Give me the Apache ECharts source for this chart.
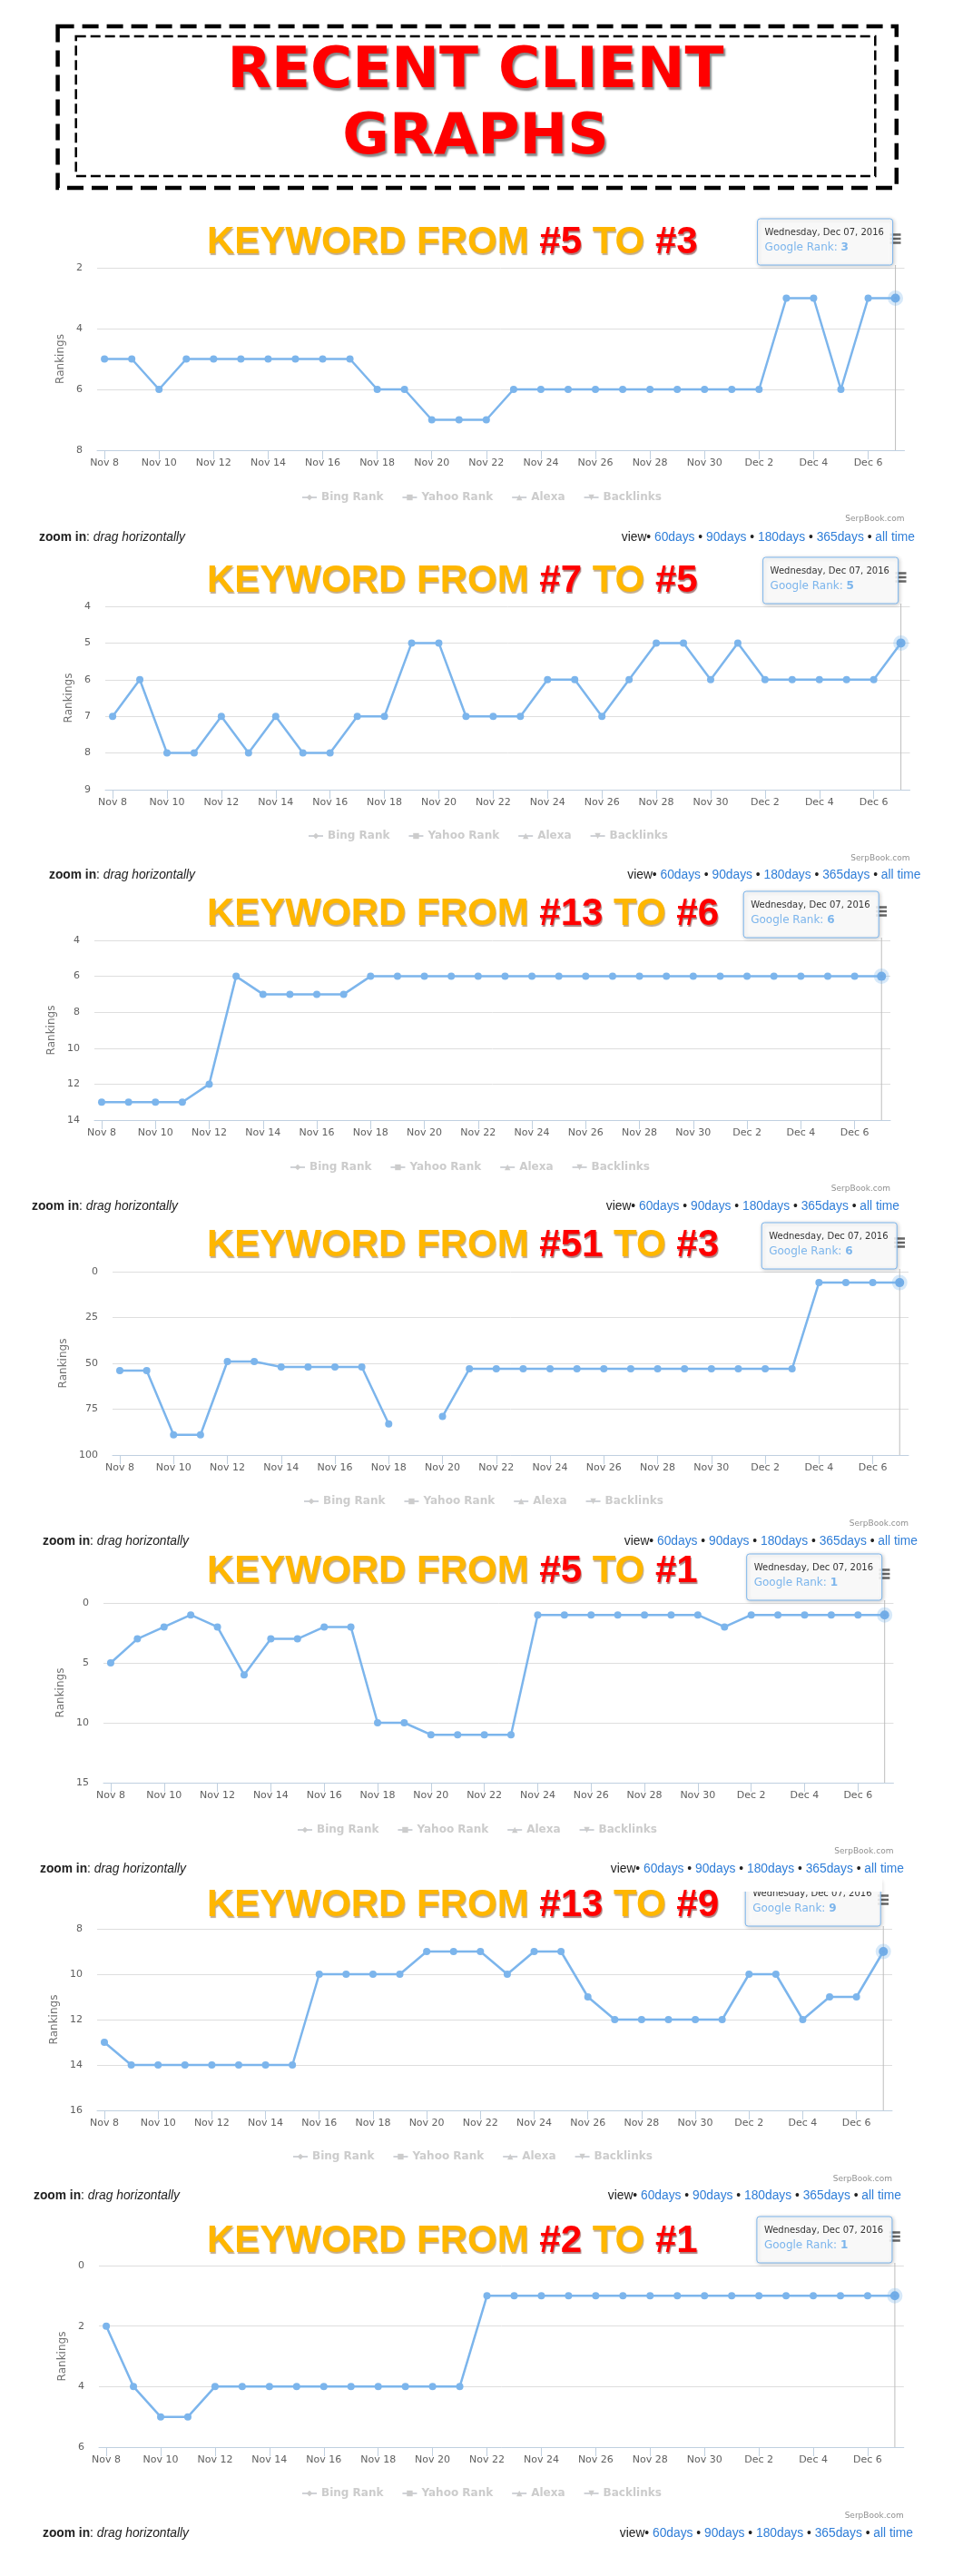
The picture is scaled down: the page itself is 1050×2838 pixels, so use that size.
<!DOCTYPE html>
<html><head><meta charset="utf-8">
<script src="https://cdn.jsdelivr.net/npm/echarts@6/dist/echarts.min.js"></script>
<style>html,body{margin:0;padding:0;background:#fff}#c{width:1050px;height:2838px}</style>
</head><body><div id="c"></div>
<script>
// ---------- DATA ----------
const dates = ['Nov 8','Nov 9','Nov 10','Nov 11','Nov 12','Nov 13','Nov 14','Nov 15','Nov 16','Nov 17',
  'Nov 18','Nov 19','Nov 20','Nov 21','Nov 22','Nov 23','Nov 24','Nov 25','Nov 26','Nov 27',
  'Nov 28','Nov 29','Nov 30','Dec 1','Dec 2','Dec 3','Dec 4','Dec 5','Dec 6','Dec 7'];
const tickIdx = [0,2,4,6,8,10,12,14,16,18,20,22,24,26,28];
const rank1 = [5,5,6,5,5,5,5,5,5,5,6,6,7,7,7,6,6,6,6,6,6,6,6,6,6,3,3,6,3,3];
const rank2 = [7,6,8,8,7,8,7,8,8,7,7,5,5,7,7,7,6,6,7,6,5,5,6,5,6,6,6,6,6,5];
const rank3 = [13,13,13,13,12,6,7,7,7,7,6,6,6,6,6,6,6,6,6,6,6,6,6,6,6,6,6,6,6,6];
const rank4 = [54,54,89,89,49,49,52,52,52,52,83,null,79,53,53,53,53,53,53,53,53,53,53,53,53,53,6,6,6,6];
const rank5 = [5,3,2,1,2,6,3,3,2,2,10,10,11,11,11,11,1,1,1,1,1,1,1,2,1,1,1,1,1,1];
const rank6 = [13,14,14,14,14,14,14,14,10,10,10,10,9,9,9,10,9,9,11,12,12,12,12,12,10,10,12,11,11,9];
const rank7 = [2,4,5,5,4,4,4,4,4,4,4,4,4,4,1,1,1,1,1,1,1,1,1,1,1,1,1,1,1,1];
const ranks = [rank1,rank2,rank3,rank4,rank5,rank6,rank7];
const fromRanks = ['#5','#7','#13','#51','#5','#13','#2'];
const toRanks = ['#3','#5','#6','#3','#1','#9','#1'];
const yMin = [2,4,4,0,0,8,0];
const yMax = [8,9,14,100,15,16,6];
const yInterval = [2,1,2,25,5,2,2];
const legendNames = ['Bing Rank','Yahoo Rank','Alexa','Backlinks'];
const footerLinks = ['60days','90days','180days','365days','all time'];
const tooltipDate = 'Wednesday, Dec 07, 2016';
const seriesName = 'Google Rank';
const headingLines = ['RECENT CLIENT','GRAPHS'];

// ---------- LAYOUT ----------
const gridTop    = [295, 668, 1036, 1401, 1766, 2125, 2496];
const gridBottom = [496, 870, 1234, 1603, 1964, 2325, 2696];
const gridLeft   = [107, 116, 104, 124, 114, 107, 109];
const gridRight  = [996.5, 1002.5, 981, 1001, 984.4, 983, 995.8];
const titleY     = [267, 640, 1007, 1372.5, 1731.5, 2099.5, 2469.5];
const legendY    = [550, 923, 1288, 1656, 2018, 2378, 2749];
const legendLeft = [332, 339, 319, 334, 327, 322, 332];
const footerY    = [592, 964, 1329, 1698, 2059, 2419, 2791];
const serpY      = [572, 946, 1310, 1679, 2040, 2401, 2772];
const zoomX      = [43, 54, 35, 47, 44, 37, 47];
const viewRight  = [1008, 1014.5, 991, 1011, 996, 993, 1006];
const nameGap    = [32, 33, 39, 48, 39, 41, 33];
const tipClipY   = [0, 0, 0, 0, 0, 2084, 0];   // screenshot crop edge hiding a tooltip top

const HC = '"DejaVu Sans", sans-serif';
const AR = '"Liberation Sans", Arial, sans-serif';
const BLUE = '#7cb5ec';

const grids = [], xAxes = [], yAxes = [], series = [], legends = [];
ranks.forEach((r, i) => {
  grids.push({left: gridLeft[i], top: gridTop[i], width: gridRight[i]-gridLeft[i], height: gridBottom[i]-gridTop[i], containLabel:false});
  xAxes.push({type:'value', gridIndex:i, min:-0.27, max:29.33,
    axisLine:{show:true, onZero:false, lineStyle:{color:'#C0D0E0', width:1}},
    axisTick:{show:true, customValues: tickIdx, length:10, lineStyle:{color:'#C0D0E0'}},
    axisLabel:{customValues: tickIdx, formatter: v => dates[v], color:'#606060', fontSize:11, fontFamily:HC, margin:9},
    splitLine:{show:false}});
  yAxes.push({type:'value', gridIndex:i, inverse:true, min:yMin[i], max:yMax[i], interval:yInterval[i],
    axisLine:{show:false}, axisTick:{show:false},
    splitLine:{show:true, lineStyle:{color:'#DEDEDE', width:1}},
    axisLabel:{color:'#606060', fontSize:11, fontFamily:HC, margin:16},
    name:'Rankings', nameLocation:'middle', nameGap:nameGap[i],
    nameTextStyle:{color:'#707070', fontSize:12, fontFamily:HC}});
  const data = r.map((v, j) => {
    const val = [j, v == null ? '-' : v];
    if (j === r.length - 1) return {value: val, symbolSize: 10,
      itemStyle:{color:'#6fa9e6', borderColor:'rgba(124,181,236,0.3)', borderWidth:7}};
    return val;
  });
  series.push({type:'line', name:seriesName, xAxisIndex:i, yAxisIndex:i, data,
    symbol:'circle', symbolSize:8, showSymbol:true, connectNulls:false,
    lineStyle:{color:BLUE, width:2.5}, itemStyle:{color:BLUE}, z:3,
    emphasis:{disabled:true}, silent:true, animation:false});
  const sel = {}; legendNames.forEach(n => sel[n] = false);
  legends.push({left: legendLeft[i], top: legendY[i]-8, orient:'horizontal', itemGap:20, itemWidth:16, itemHeight:8,
    data: legendNames, selected: sel, inactiveColor:'#cccccc', inactiveBorderColor:'#cccccc',
    textStyle:{fontSize:12, fontWeight:'bold', fontFamily:HC, color:'#cccccc'}, padding:0});
});
const legendSymbols = ['diamond','rect','triangle','path://M0,0 L10,0 L5,10 Z'];
legendNames.forEach((n, k) => series.push({type:'line', name:n, data:[], symbol:legendSymbols[k], xAxisIndex:0, yAxisIndex:0,
  itemStyle:{color:'#cccccc'}, lineStyle:{color:'#cccccc'}}));

const chart = echarts.init(document.getElementById('c'), null, {renderer:'canvas', width:1050, height:2838});
chart.setOption({animation:false, backgroundColor:'#ffffff', textStyle:{fontFamily:HC},
  grid:grids, xAxis:xAxes, yAxis:yAxes, series, legend:legends, tooltip:{show:false}});

// ---------- GRAPHICS (text, decorations, tooltips) ----------
const g = [];
g.push({type:'rect', shape:{x:63.6, y:29, width:924.2, height:178}, style:{fill:'none', stroke:'#000', lineWidth:4.5, lineDash:[18,9]}});
g.push({type:'rect', shape:{x:83.7, y:40, width:880.6, height:154}, style:{fill:'none', stroke:'#000', lineWidth:2.5, lineDash:[11,5]}});
[79.5, 152.5].forEach((y, k) => g.push({type:'text', x:524, y, style:{text: headingLines[k], fontFamily:'"DejaVu Sans", sans-serif',
  fontWeight:'bold', fontSize:63, fill:'#ff0000', align:'center', verticalAlign:'middle',
  textShadowColor:'rgba(70,70,70,0.65)', textShadowBlur:2, textShadowOffsetX:2, textShadowOffsetY:3}}));

const oSt = {fill:'#FFB700', fontFamily:AR, fontWeight:'bold', fontSize:42, textShadowColor:'rgba(120,70,0,0.45)', textShadowBlur:1, textShadowOffsetX:1, textShadowOffsetY:2};
const rSt = Object.assign({}, oSt, {fill:'#FF0000', textShadowColor:'rgba(90,0,0,0.5)'});
ranks.forEach((r, i) => {
  g.push({type:'text', x:228, y:titleY[i], style:{text:'{o|KEYWORD FROM }{r|' + fromRanks[i] + '}{o| TO }{r|' + toRanks[i] + '}',
    fontFamily:AR, fontWeight:'bold', fontSize:42, verticalAlign:'middle', align:'left', rich:{o:oSt, r:rSt}}});
  g.push({type:'text', x:gridRight[i], y:serpY[i], style:{text:'SerpBook.com', fontFamily:HC, fontSize:9, fill:'#909090', align:'right', verticalAlign:'middle'}});
  g.push({type:'text', x:zoomX[i], y:footerY[i], style:{text:'{b|zoom in}{n|: }{it|drag horizontally}', fontFamily:AR, fontSize:13.8, verticalAlign:'middle', align:'left',
    rich:{b:{fill:'#222', fontWeight:'bold', fontFamily:AR, fontSize:13.8}, n:{fill:'#222', fontFamily:AR, fontSize:13.8}, it:{fill:'#222', fontStyle:'italic', fontFamily:AR, fontSize:13.8}}}});
  g.push({type:'text', x:viewRight[i], y:footerY[i], style:{text:'{d|view•} ' + footerLinks.map(s => '{l|' + s + '}').join('{d| • }'),
    fontFamily:AR, fontSize:13.8, verticalAlign:'middle', align:'right',
    rich:{d:{fill:'#222', fontFamily:AR, fontSize:13.8}, l:{fill:'#2f7ed8', fontFamily:AR, fontSize:13.8}}}});
  // crosshair, menu icon and tooltip anchored to the last data point
  const last = r[r.length - 1];
  const p = chart.convertToPixel({gridIndex:i}, [r.length - 1, last]);
  g.push({type:'line', z:1, shape:{x1:p[0], y1:gridTop[i]-3, x2:p[0], y2:gridBottom[i]}, style:{stroke:'#BDBDBD', lineWidth:1}});
  const mx = gridRight[i] - 16, my = gridTop[i] - 32;
  [-4.5, 0, 4.5].forEach(d => g.push({type:'rect', z:40, shape:{x:mx, y:my + d - 1.25, width:12, height:2.5}, style:{fill:'#666'}}));
  const tw = 149, th = 51, tx = p[0] - 3 - tw, ty = gridTop[i] - 54;
  g.push({type:'rect', z:50, shape:{x:tx, y:ty, width:tw, height:th, r:3}, style:{fill:'rgba(255,255,255,0.86)', stroke:BLUE, lineWidth:1,
    shadowColor:'rgba(0,0,0,0.22)', shadowBlur:4, shadowOffsetX:1, shadowOffsetY:1}});
  g.push({type:'text', z:51, x:tx + 8, y:ty + 15.5, style:{text:tooltipDate, fontFamily:HC, fontSize:10, fill:'#333', verticalAlign:'middle'}});
  g.push({type:'text', z:51, x:tx + 8, y:ty + 32, style:{text:'{g|' + seriesName + ': }{v|' + last + '}', fontFamily:HC, fontSize:12, verticalAlign:'middle',
    rich:{g:{fill:BLUE, fontFamily:HC, fontSize:12}, v:{fill:BLUE, fontFamily:HC, fontSize:12, fontWeight:'bold'}}}});
  if (tipClipY[i]) {
    const top = Math.max(ty - 8, footerY[i - 1] + 9);
    g.push({type:'rect', z:55, shape:{x:tx - 6, y:top, width:tw + 8, height:tipClipY[i] - top}, style:{fill:'#ffffff'}});
  }
});
chart.setOption({graphic:g});
</script></body></html>
